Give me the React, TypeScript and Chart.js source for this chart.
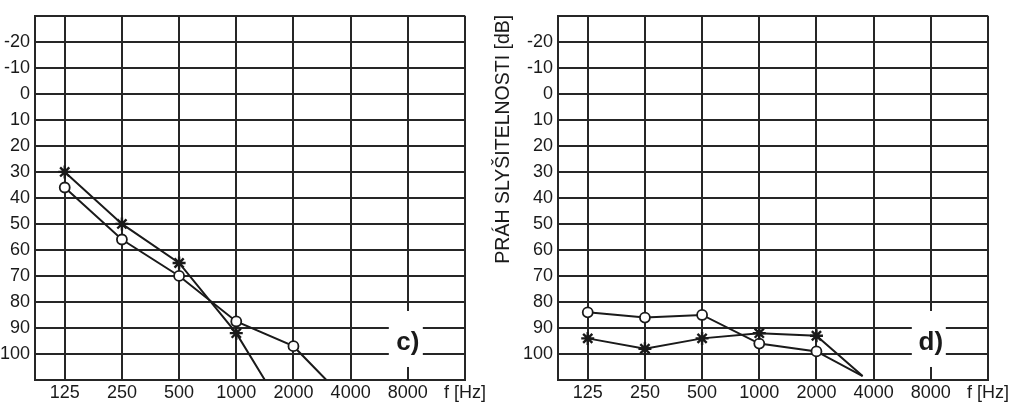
import React, { useEffect, useRef } from 'react';
import { Chart, registerables } from 'chart.js';

Chart.register(...registerables);

// ---------- data ----------
const X_TICK_LABELS = ['125', '250', '500', '1000', '2000', '4000', '8000', 'f [Hz]'];
const Y_GRID_VALUES = [-30, -20, -10, 0, 10, 20, 30, 40, 50, 60, 70, 80, 90, 100, 110];
const Y_TICK_LABELS = ['', '-20', '-10', '0', '10', '20', '30', '40', '50', '60', '70', '80', '90', '100', ''];
const Y_TITLE = 'PRÁH SLYŠITELNOSTI [dB]';

const FREQS = [125, 250, 500, 1000, 2000];

// panel c)
const C_STAR_DB = [30, 50, 65, 92];
const C_STAR_TAIL_HZ = 1414;
const C_STAR_TAIL_DB = 110;
const C_CIRCLE_DB = [36, 56, 70, 87.5, 97];
const C_CIRCLE_TAIL_HZ = 2980;
const C_CIRCLE_TAIL_DB = 110;

// panel d)
const D_STAR_DB = [94, 98, 94, 92, 93];
const D_CIRCLE_DB = [84, 86, 85, 96, 99];
const D_TAIL_HZ = 3500;
const D_TAIL_DB = 108.5;

// ---------- helpers ----------
const FONT = 'Liberation Sans, Arial, Helvetica, sans-serif';
const INK = '#1a1a1a';
const GRID = '#262626';

const oct = (hz: number) => Math.log2(hz / 125);

function series(dbs: number[], tailHz: number, tailDb: number) {
  const pts = dbs.map((db, i) => ({ x: oct(FREQS[i]), y: db, m: true }));
  pts.push({ x: oct(tailHz), y: tailDb, m: false });
  return pts;
}

function panelLabelPlugin(text: string, title: string | null) {
  return {
    id: 'panelLabel',
    beforeDatasetsDraw(chart: any) {
      const { ctx, scales } = chart;
      const px = scales.x.getPixelForValue(6);
      const py = scales.y.getPixelForValue(95);
      ctx.save();
      ctx.fillStyle = '#ffffff';
      ctx.fillRect(px - 19, py - 30, 34, 56);
      ctx.fillStyle = INK;
      ctx.font = `bold 26px ${FONT}`;
      ctx.textAlign = 'center';
      ctx.textBaseline = 'middle';
      ctx.fillText(text, px, py + 2);
      ctx.restore();
    },
    afterDraw(chart: any) {
      if (!title) return;
      const { ctx, chartArea } = chart;
      ctx.save();
      ctx.translate(13.5, chartArea.top - 1);
      ctx.rotate(-Math.PI / 2);
      ctx.fillStyle = INK;
      ctx.font = `19.5px ${FONT}`;
      ctx.textAlign = 'right';
      ctx.textBaseline = 'middle';
      ctx.fillText(title, 0, 0);
      ctx.restore();
    },
  };
}

function makeConfig(opts: {
  star: any[];
  circle: any[];
  label: string;
  yWidth: number;
  padRight: number;
  padTop: number;
  title: string | null;
}) {
  return {
    type: 'scatter' as const,
    data: {
      datasets: [
        {
          data: opts.star,
          showLine: true,
          borderColor: INK,
          borderWidth: 2,
          pointStyle: 'star',
          pointRadius: (c: any) => (c.raw && c.raw.m ? 6.5 : 0),
          pointBorderColor: INK,
          pointBorderWidth: 2.4,
          pointBackgroundColor: INK,
        },
        {
          data: opts.circle,
          showLine: true,
          borderColor: INK,
          borderWidth: 2,
          pointStyle: 'circle',
          pointRadius: (c: any) => (c.raw && c.raw.m ? 5 : 0),
          pointBorderColor: INK,
          pointBorderWidth: 1.8,
          pointBackgroundColor: '#ffffff',
        },
      ],
    },
    options: {
      responsive: false,
      animation: false,
      events: [],
      layout: { padding: { top: opts.padTop, right: opts.padRight, left: 0, bottom: 0 } },
      plugins: { legend: { display: false }, tooltip: { enabled: false } },
      scales: {
        x: {
          type: 'linear',
          min: -0.52,
          max: 7,
          afterBuildTicks: (s: any) => {
            s.ticks = X_TICK_LABELS.map((_, i) => ({ value: i }));
          },
          afterFit: (s: any) => {
            s.height = 29;
          },
          ticks: {
            autoSkip: false,
            maxRotation: 0,
            padding: 2,
            color: INK,
            font: { family: FONT, size: 18 },
            callback: (v: any) => X_TICK_LABELS[Math.round(v)] ?? '',
          },
          grid: { color: GRID, lineWidth: 2, drawTicks: false },
          border: { display: true, color: GRID, width: 2 },
        },
        y: {
          type: 'linear',
          reverse: true,
          min: -30,
          max: 110,
          afterBuildTicks: (s: any) => {
            s.ticks = Y_GRID_VALUES.map((v) => ({ value: v }));
          },
          afterFit: (s: any) => {
            s.width = opts.yWidth;
          },
          ticks: {
            autoSkip: false,
            padding: 5,
            color: INK,
            font: { family: FONT, size: 18 },
            callback: (v: any) => Y_TICK_LABELS[Y_GRID_VALUES.indexOf(Math.round(v))] ?? '',
          },
          grid: { color: GRID, lineWidth: 2, drawTicks: false },
          border: { display: true, color: GRID, width: 2 },
        },
      },
    },
    plugins: [panelLabelPlugin(opts.label, opts.title)],
  };
}

function Panel(props: { left: number; width: number; config: any }) {
  const ref = useRef<HTMLCanvasElement | null>(null);
  useEffect(() => {
    if (!ref.current) return;
    const chart = new Chart(ref.current, props.config);
    return () => chart.destroy();
  }, []);
  return (
    <div style={{ position: 'absolute', left: props.left, top: 0, width: props.width, height: 409 }}>
      <canvas ref={ref} width={props.width} height={409} style={{ display: 'block' }} />
    </div>
  );
}

export default function App() {
  const cfgC = makeConfig({
    star: series(C_STAR_DB, C_STAR_TAIL_HZ, C_STAR_TAIL_DB),
    circle: series(C_CIRCLE_DB, C_CIRCLE_TAIL_HZ, C_CIRCLE_TAIL_DB),
    label: 'c)',
    yWidth: 35,
    padRight: 24,
    padTop: 13,
    title: null,
  });
  const cfgD = makeConfig({
    star: series(D_STAR_DB, D_TAIL_HZ, D_TAIL_DB),
    circle: series(D_CIRCLE_DB, D_TAIL_HZ, D_TAIL_DB),
    label: 'd)',
    yWidth: 68,
    padRight: 36,
    padTop: 14,
    title: Y_TITLE,
  });
  return (
    <div style={{ position: 'absolute', left: 0, top: 0, width: 1024, height: 409, background: '#fff' }}>
      <Panel left={0} width={489} config={cfgC} />
      <Panel left={490} width={534} config={cfgD} />
    </div>
  );
}
